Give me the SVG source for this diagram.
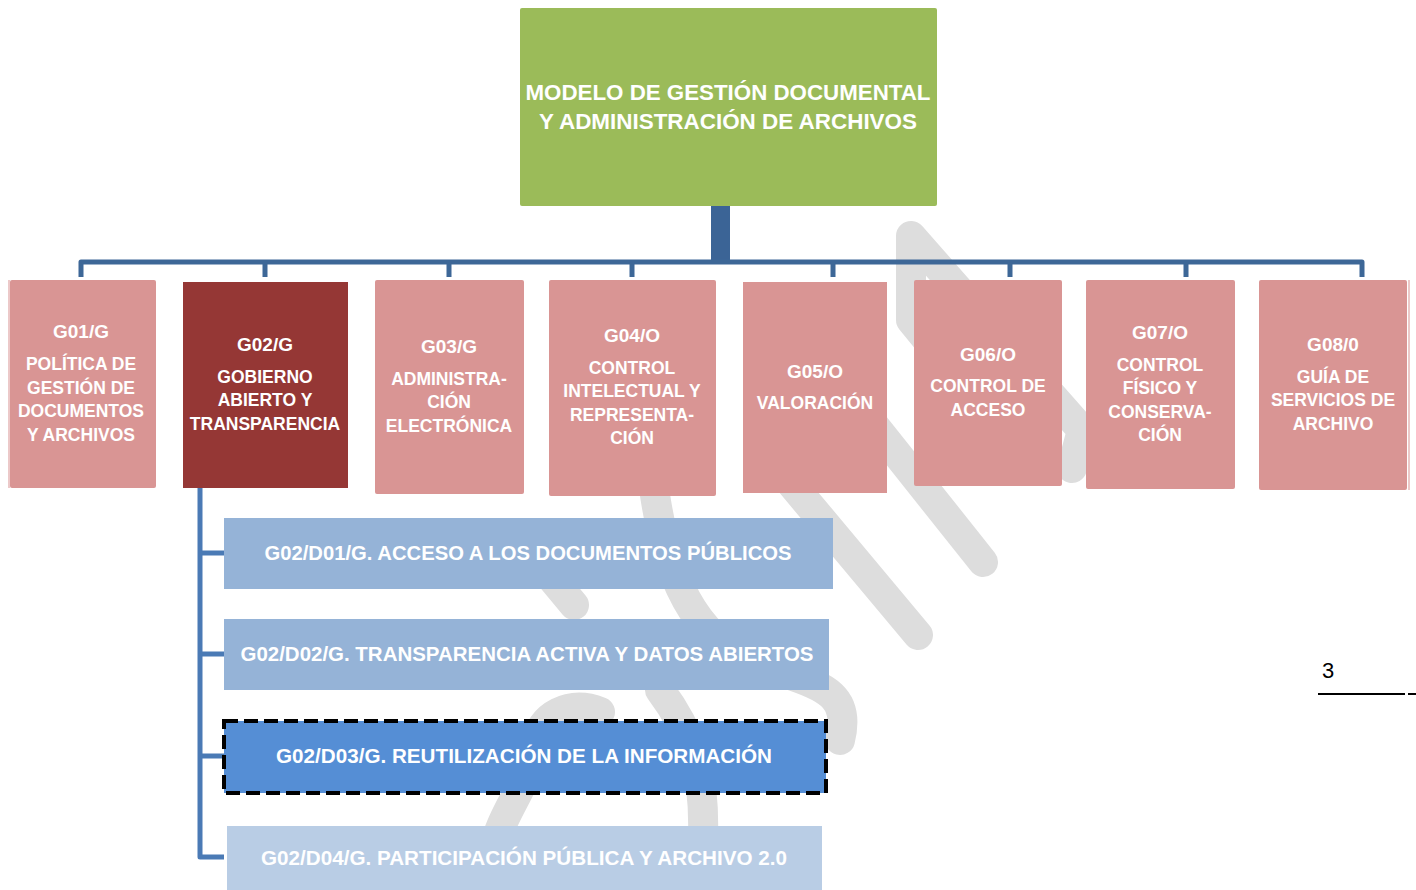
<svg xmlns="http://www.w3.org/2000/svg" width="1416" height="890" viewBox="0 0 1416 890">
<style>
.wm{fill:none;stroke:#dddddd;stroke-width:30;stroke-linecap:round;stroke-linejoin:round}
.lbl{font-family:"Liberation Sans",Arial,sans-serif;font-weight:bold;fill:#ffffff;text-anchor:middle}
.g{font-size:17.5px}
.c{font-size:19px}
.d{font-size:20px}
.t{font-size:22px}
.pink{fill:#d99594}
.bus{fill:none;stroke:#3d6797;stroke-width:5;stroke-linejoin:round}
.sub{fill:none;stroke:#4a7ab5;stroke-width:5;stroke-linejoin:round}
</style>
<rect width="1416" height="890" fill="#ffffff"/>
<g id="watermark">
<path class="wm" d="M1072,468 L1082,430 L911,236 L911,320 L960,380"/>
<path class="wm" d="M870,420 L983,562"/>
<path class="wm" d="M780,470 L918,635"/>
<path class="wm" d="M655,495 C665,560 685,625 740,655 C800,685 855,680 840,740"/>
<path class="wm" d="M520,540 L574,605"/>
<path class="wm" d="M660,690 C690,730 705,770 703,835"/>
<path class="wm" d="M600,712 C570,700 540,715 535,745 C530,780 505,810 498,835"/>
</g>
<g id="connectors">
<rect x="711" y="206" width="19" height="58" fill="#3b6496"/>
<path class="bus" d="M81,277 V262 H1362 V277"/>
<path class="bus" d="M265,262 V277 M449,262 V277 M632,262 V277 M833,262 V277 M1010,262 V277 M1186,262 V277"/>
<path class="sub" d="M200,488 V857 H224 M200,553 H224 M200,654 H224 M200,756 H224"/>
</g>
<g id="root">
<rect x="520" y="8" width="417" height="198" rx="2" fill="#9bbb59"/>
<text class="lbl t" x="728" y="100" textLength="405" lengthAdjust="spacingAndGlyphs">MODELO DE GESTIÓN DOCUMENTAL</text>
<text class="lbl t" x="728" y="129" textLength="378" lengthAdjust="spacingAndGlyphs">Y ADMINISTRACIÓN DE ARCHIVOS</text>
</g>
<g id="g01">
<rect x="8" y="280" width="2" height="208" fill="#ecc9c9"/>
<rect x="10" y="280" width="146" height="208" rx="2" class="pink"/>
<text class="lbl c" x="81" y="338">G01/G</text>
<text class="lbl g" x="81" y="370">POLÍTICA DE</text>
<text class="lbl g" x="81" y="394">GESTIÓN DE</text>
<text class="lbl g" x="81" y="417">DOCUMENTOS</text>
<text class="lbl g" x="81" y="441">Y ARCHIVOS</text>
</g>
<g id="g02">
<rect x="183" y="282" width="165" height="206" fill="#953735"/>
<text class="lbl c" x="265" y="351">G02/G</text>
<text class="lbl g" x="265" y="383">GOBIERNO</text>
<text class="lbl g" x="265" y="406">ABIERTO Y</text>
<text class="lbl g" x="265" y="430">TRANSPARENCIA</text>
</g>
<g id="g03">
<rect x="375" y="280" width="149" height="214" rx="2" class="pink"/>
<text class="lbl c" x="449" y="353">G03/G</text>
<text class="lbl g" x="449" y="385">ADMINISTRA-</text>
<text class="lbl g" x="449" y="408">CIÓN</text>
<text class="lbl g" x="449" y="432">ELECTRÓNICA</text>
</g>
<g id="g04">
<rect x="549" y="280" width="167" height="216" rx="2" class="pink"/>
<text class="lbl c" x="632" y="342">G04/O</text>
<text class="lbl g" x="632" y="374">CONTROL</text>
<text class="lbl g" x="632" y="397">INTELECTUAL Y</text>
<text class="lbl g" x="632" y="421">REPRESENTA-</text>
<text class="lbl g" x="632" y="444">CIÓN</text>
</g>
<g id="g05">
<rect x="743" y="282" width="144" height="211" class="pink"/>
<text class="lbl c" x="815" y="378">G05/O</text>
<text class="lbl g" x="815" y="409">VALORACIÓN</text>
</g>
<g id="g06">
<rect x="914" y="280" width="148" height="206" rx="2" class="pink"/>
<text class="lbl c" x="988" y="361">G06/O</text>
<text class="lbl g" x="988" y="392">CONTROL DE</text>
<text class="lbl g" x="988" y="416">ACCESO</text>
</g>
<g id="g07">
<rect x="1086" y="280" width="149" height="209" rx="2" class="pink"/>
<text class="lbl c" x="1160" y="339">G07/O</text>
<text class="lbl g" x="1160" y="371">CONTROL</text>
<text class="lbl g" x="1160" y="394">FÍSICO Y</text>
<text class="lbl g" x="1160" y="418">CONSERVA-</text>
<text class="lbl g" x="1160" y="441">CIÓN</text>
</g>
<g id="g08">
<rect x="1259" y="280" width="148" height="210" rx="2" class="pink"/>
<rect x="1408" y="280" width="2" height="210" fill="#ecc9c9"/>
<text class="lbl c" x="1333" y="351">G08/0</text>
<text class="lbl g" x="1333" y="383">GUÍA DE</text>
<text class="lbl g" x="1333" y="406">SERVICIOS DE</text>
<text class="lbl g" x="1333" y="430">ARCHIVO</text>
</g>
<g id="d01">
<rect x="224" y="518" width="609" height="71" fill="#95b3d7"/>
<text class="lbl d" x="528" y="560" textLength="527" lengthAdjust="spacingAndGlyphs">G02/D01/G. ACCESO A LOS DOCUMENTOS PÚBLICOS</text>
</g>
<g id="d02">
<rect x="224" y="619" width="605" height="71" fill="#95b3d7"/>
<text class="lbl d" x="527" y="661" textLength="573" lengthAdjust="spacingAndGlyphs">G02/D02/G. TRANSPARENCIA ACTIVA Y DATOS ABIERTOS</text>
</g>
<g id="d03">
<rect x="224" y="721" width="602" height="72" fill="#558ed5" stroke="#000000" stroke-width="4" stroke-dasharray="14,6"/>
<text class="lbl d" x="524" y="763" textLength="496" lengthAdjust="spacingAndGlyphs">G02/D03/G. REUTILIZACIÓN DE LA INFORMACIÓN</text>
</g>
<g id="d04">
<rect x="227" y="826" width="595" height="70" fill="#b9cde5"/>
<text class="lbl d" x="524" y="865" textLength="526" lengthAdjust="spacingAndGlyphs">G02/D04/G. PARTICIPACIÓN PÚBLICA Y ARCHIVO 2.0</text>
</g>
<g id="page">
<text x="1322" y="678" font-family="Liberation Sans,Arial,sans-serif" font-size="22" fill="#000000">3</text>
<path d="M1318,694 H1405 M1408,694 H1416" stroke="#000000" stroke-width="2"/>
</g>
</svg>
